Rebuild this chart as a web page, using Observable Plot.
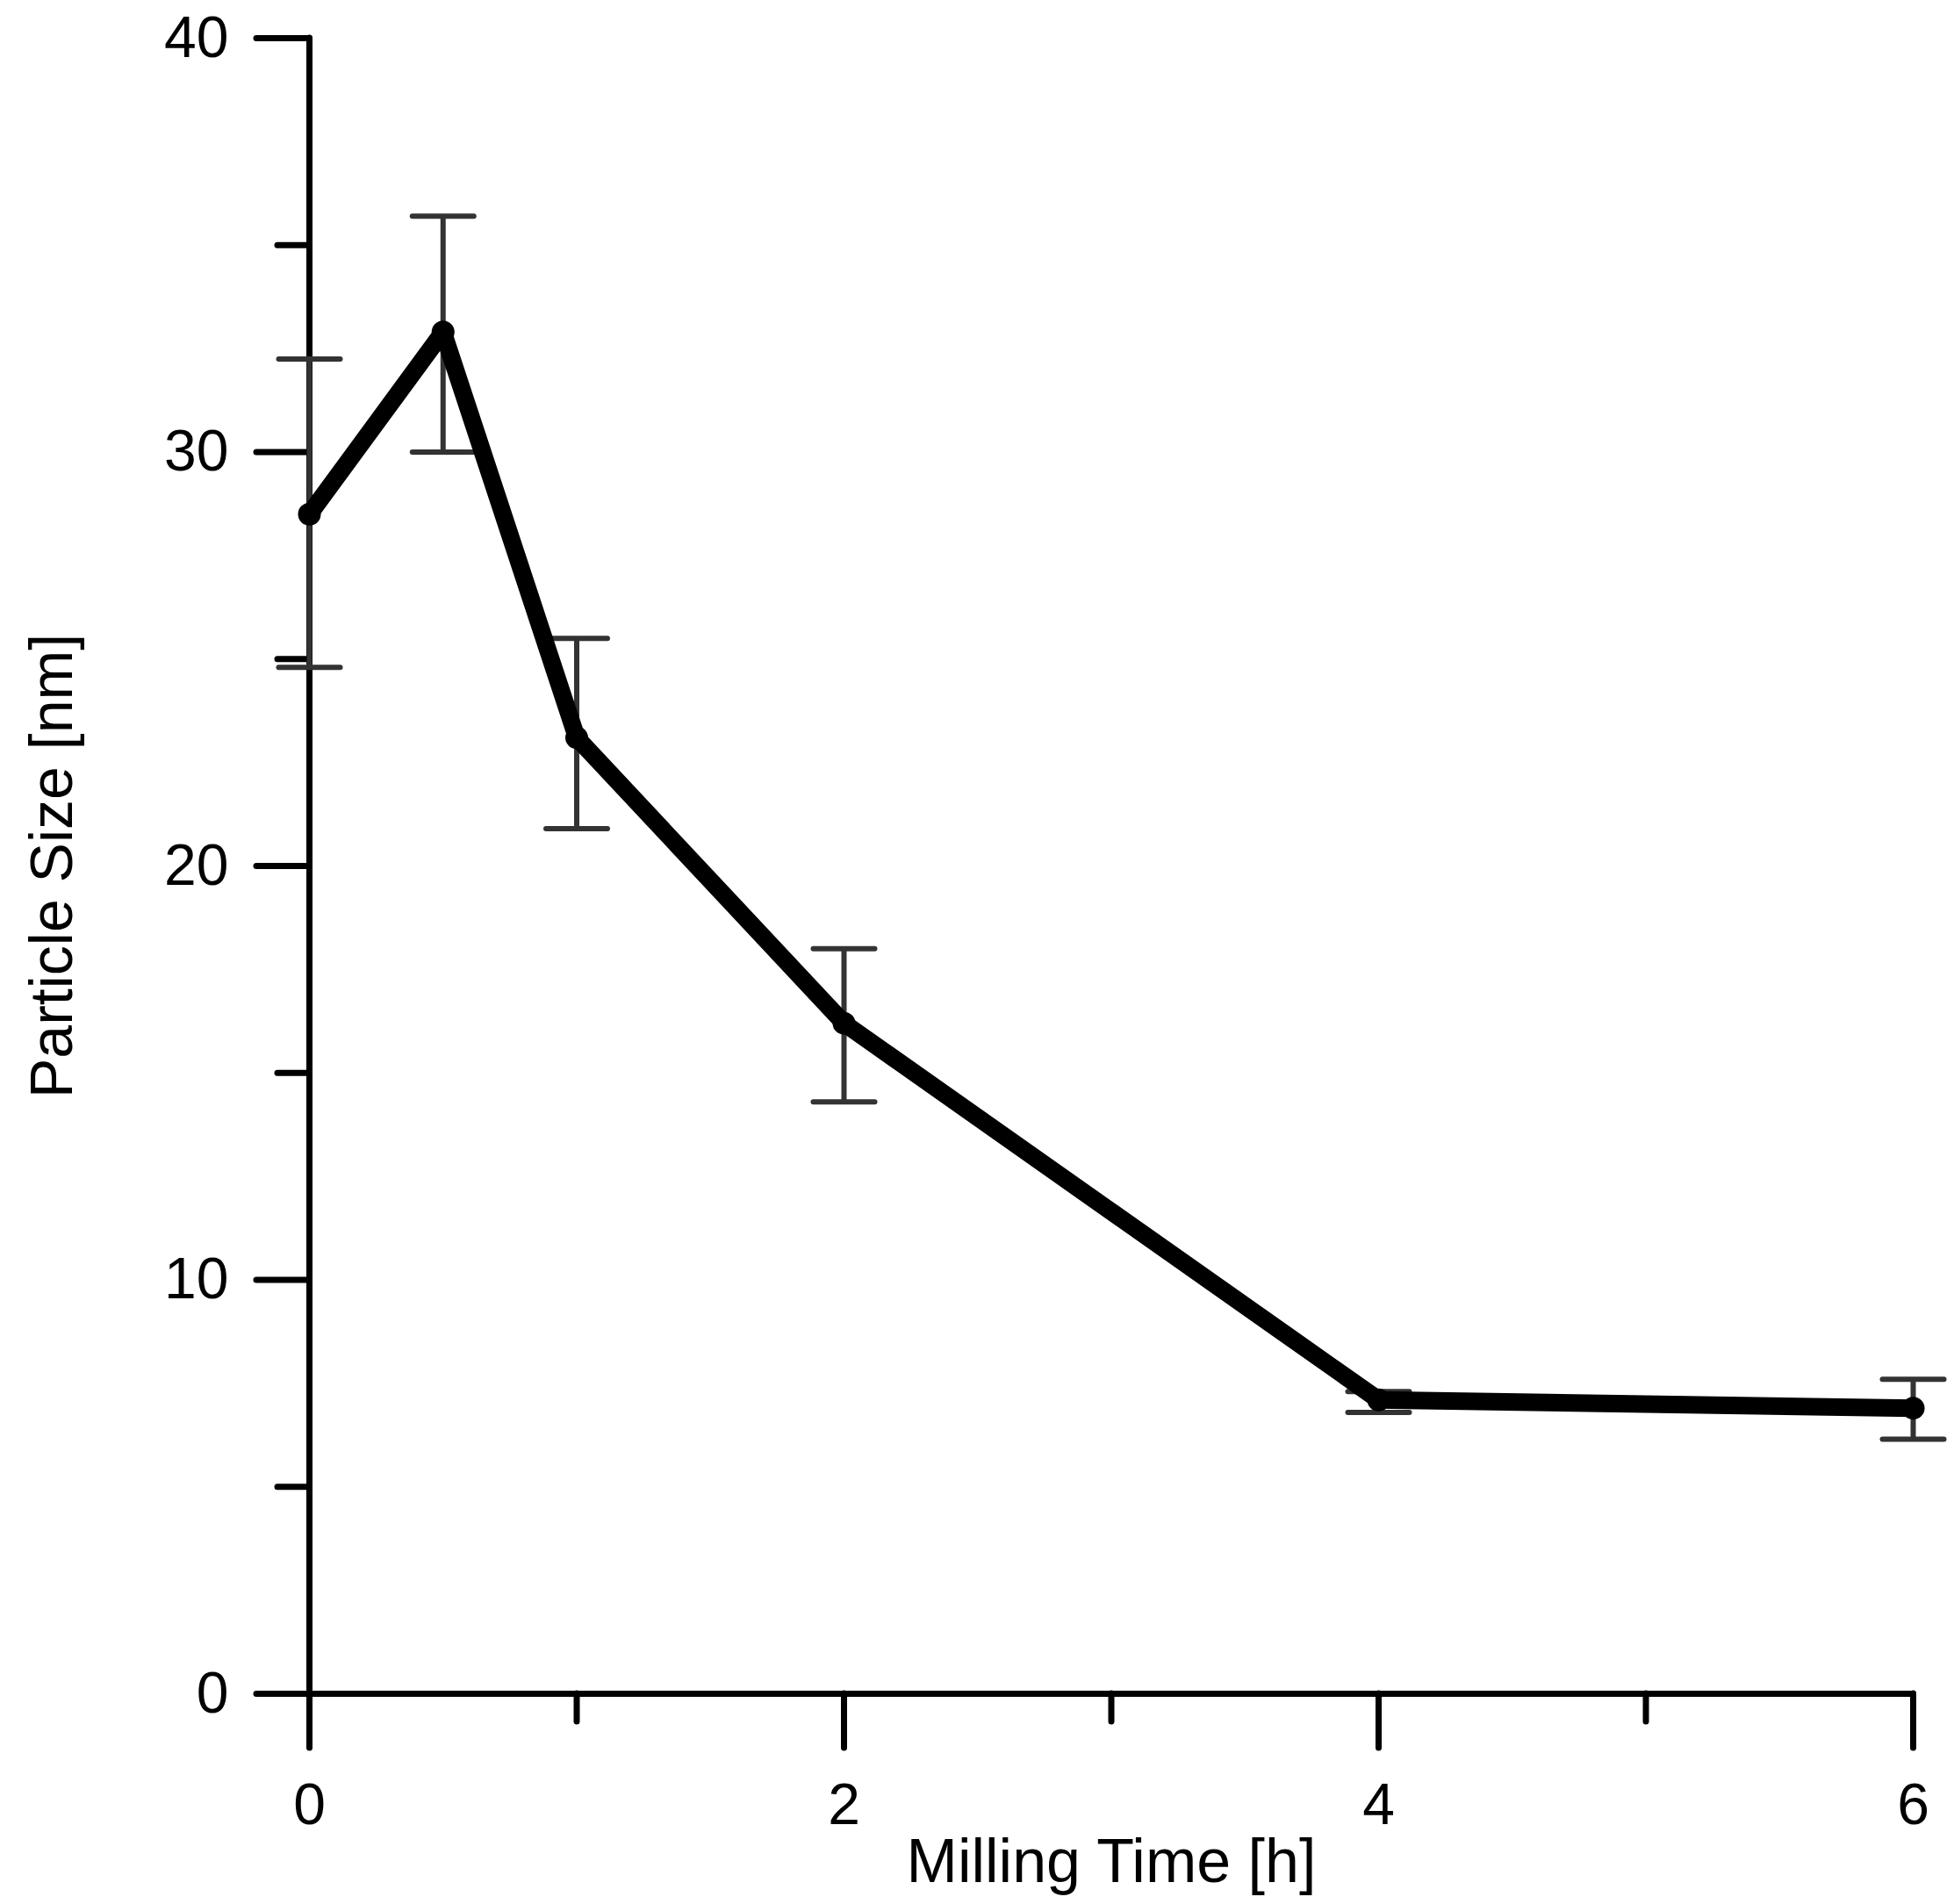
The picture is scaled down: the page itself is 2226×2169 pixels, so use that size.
<!DOCTYPE html>
<html>
<head>
<meta charset="utf-8">
<script src="https://cdn.jsdelivr.net/npm/d3@7"></script>
<script src="https://cdn.jsdelivr.net/npm/@observablehq/plot@0.6"></script>
<style>
  body { margin: 0; background: #fff; }
  #chart svg { display: block; }
</style>
</head>
<body>
<div id="chart"></div>
<script>
// milling time (h) vs particle size (nm)
const time = [0, 0.5, 1, 2, 4, 6]
const size = [28.5, 32.9, 23.1, 16.2, 7.1, 6.9]
const errLow = [24.8, 30.0, 20.9, 14.3, 6.8, 6.15]
const errHigh = [32.25, 35.7, 25.5, 18.0, 7.3, 7.6]

const xMajor = [0, 2, 4, 6]
const xMinor = [1, 3, 5]
const yMajor = [0, 10, 20, 30, 40]
const yMinor = [5, 15, 25, 35]

const data = time.map((t, i) => ({t, size: size[i], lo: errLow[i], hi: errHigh[i]}))

// horizontal bar used as error-bar cap
const capSymbol = {
  draw(ctx, s) {
    const h = Math.sqrt(s / Math.PI)
    ctx.moveTo(-h, 0)
    ctx.lineTo(h, 0)
  }
}

const axisStyle = {stroke: "#000", strokeWidth: 7, strokeLinecap: "round"}

let chart = Plot.plot({
  width: 2226,
  height: 2169,
  marginLeft: 352,
  marginRight: 47,
  marginTop: 43,
  marginBottom: 240,
  style: {fontFamily: "Liberation Sans, Arial, sans-serif", background: "#fff", color: "#000"},
  x: {domain: [0, 6]},
  y: {domain: [0, 40]},
  marks: [
    // axis lines
    Plot.ruleX([0], {y1: 0, y2: 40, ...axisStyle}),
    Plot.ruleY([0], {x1: 0, x2: 6, ...axisStyle}),
    Plot.axisY({ticks: yMajor, tickSize: 60, tickPadding: 32, fontSize: 66, tickFormat: d3.format("d"), label: null, ...axisStyle}),
    Plot.axisY({ticks: yMinor, tickSize: 36, text: null, label: null, ...axisStyle}),
    Plot.axisX({ticks: xMajor, tickSize: 62, tickPadding: 40, fontSize: 66, tickFormat: d3.format("d"), label: null, ...axisStyle}),
    Plot.axisX({ticks: xMinor, tickSize: 32, text: null, label: null, ...axisStyle}),
    // error bars
    Plot.ruleX(data, {x: "t", y1: "lo", y2: "hi", stroke: "#333", strokeWidth: 6}),
    Plot.dot(data, {x: "t", y: "hi", symbol: capSymbol, r: 35, fill: "none", stroke: "#333", strokeWidth: 6, strokeLinecap: "round"}),
    Plot.dot(data, {x: "t", y: "lo", symbol: capSymbol, r: 35, fill: "none", stroke: "#333", strokeWidth: 6, strokeLinecap: "round"}),
    // series
    Plot.line(data, {x: "t", y: "size", stroke: "#000", strokeWidth: 20, strokeLinejoin: "round"}),
    Plot.dot(data, {x: "t", y: "size", r: 13, fill: "#000"}),
    // axis titles
    Plot.text(["Milling Time [h]"], {frameAnchor: "bottom", lineAnchor: "bottom", dy: 214, fontSize: 70, fill: "#000"}),
    Plot.text(["Particle Size [nm]"], {frameAnchor: "left", textAnchor: "middle", lineAnchor: "middle", rotate: -90, dx: -292, fontSize: 68, fill: "#000"})
  ]
})

d3.select('#chart').append(() => chart)
</script>
</body>
</html>
